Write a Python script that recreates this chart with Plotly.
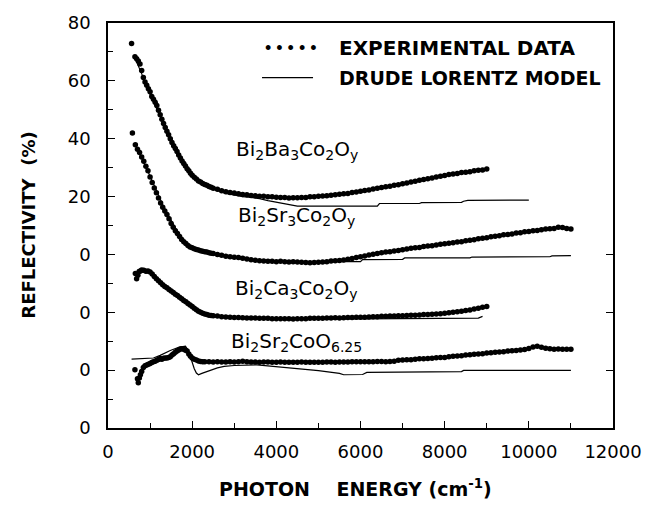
import plotly.graph_objects as go

# ---------------- data (reflectivity in %) ----------------
# vertical offsets used to stack the spectra on one axis
OFFSET_BA3 = 60
OFFSET_SR3 = 40
OFFSET_CA3 = 20
OFFSET_SR2 = 0

BA3_X = [560, 640, 680, 720, 760, 800, 840, 880, 920, 960, 1000, 1040, 1080, 1120, 1160, 1200, 1240, 1280,
         1320, 1360, 1400, 1440, 1480, 1520, 1560, 1600, 1640, 1680, 1720, 1760, 1800, 1840, 1880, 1920,
         1960, 2000, 2050, 2100, 2150, 2200, 2250, 2300, 2350, 2400, 2450, 2500, 2600, 2700, 2800, 2900,
         3000, 3100, 3200, 3300, 3400, 3500, 3600, 3700, 3800, 3900, 4000, 4100, 4200, 4300, 4400, 4500,
         4600, 4700, 4800, 4900, 5000, 5100, 5200, 5300, 5400, 5500, 5600, 5700, 5800, 5900, 6000, 6100,
         6200, 6300, 6400, 6500, 6600, 6700, 6800, 6900, 7000, 7100, 7200, 7300, 7400, 7500, 7600, 7700,
         7800, 7900, 8000, 8100, 8200, 8300, 8400, 8500, 8600, 8700, 8800, 8900, 9000]
BA3_R = [72.9, 68.3, 67.6, 66.9, 65.8, 63.6, 61.2, 59.6, 58.5, 57.3, 56.2, 54.6, 53.6, 52.6, 51.5, 49.8, 48.3,
         46.7, 45.3, 43.9, 42.6, 41.4, 40.0, 38.7, 37.6, 36.6, 35.6, 34.4, 33.3, 32.3, 31.4, 30.6, 29.6, 28.9,
         28.1, 27.4, 26.7, 26.1, 25.4, 25.0, 24.5, 24.2, 23.9, 23.5, 23.2, 22.9, 22.5, 22.0, 21.7, 21.4,
         21.2, 21.0, 20.7, 20.6, 20.4, 20.3, 20.1, 20.1, 19.9, 19.9, 19.8, 19.7, 19.7, 19.5, 19.6, 19.6,
         19.7, 19.7, 19.9, 19.9, 20.1, 20.2, 20.3, 20.5, 20.6, 20.8, 21.0, 21.1, 21.4, 21.6, 21.8, 22.1,
         22.3, 22.6, 22.9, 23.1, 23.4, 23.6, 23.9, 24.1, 24.4, 24.7, 25.0, 25.3, 25.6, 25.9, 26.2, 26.4,
         26.8, 27.0, 27.3, 27.6, 27.8, 28.0, 28.3, 28.4, 28.6, 28.9, 29.1, 29.2, 29.5]
BA3_MODEL_X = [620, 700, 800, 900, 1000, 1100, 1200, 1300, 1400, 1500, 1600, 1700, 1800, 1900, 2000, 2200,
               2400, 2600, 2800, 3000, 3200, 3400, 3600, 3800, 4000, 4200, 4400, 4500, 6400, 6450, 7400,
               7450, 8400, 8450, 8550, 10000]
BA3_MODEL_R = [68.5, 66.0, 62.5, 58.5, 55.2, 52.0, 49.0, 46.0, 42.9, 40.0, 37.2, 34.6, 32.2, 30.0, 28.0, 25.0,
               23.2, 22.0, 21.1, 20.5, 20.0, 19.7, 19.3, 18.6, 18.0, 17.4, 17.0, 16.7, 16.7, 17.6, 17.6,
               17.9, 18.0, 18.4, 18.7, 18.8]

SR3_X = [580, 650, 700, 750, 800, 850, 900, 950, 1000, 1050, 1100, 1150, 1200, 1250, 1300, 1350, 1400, 1450,
         1500, 1550, 1600, 1650, 1700, 1750, 1800, 1850, 1900, 1950, 2000, 2050, 2100, 2150, 2200, 2250,
         2300, 2350, 2400, 2450, 2500, 2600, 2700, 2800, 2900, 3000, 3100, 3200, 3300, 3400, 3500, 3600,
         3700, 3800, 3900, 4000, 4100, 4200, 4300, 4400, 4500, 4600, 4700, 4800, 4900, 5000, 5100, 5200,
         5300, 5400, 5500, 5600, 5700, 5800, 5900, 6000, 6100, 6200, 6300, 6400, 6500, 6600, 6700, 6800,
         6900, 7000, 7100, 7200, 7300, 7400, 7500, 7600, 7700, 7800, 7900, 8000, 8100, 8200, 8300, 8400,
         8500, 8600, 8700, 8800, 8900, 9000, 9100, 9200, 9300, 9400, 9500, 9600, 9700, 9800, 9900, 10000,
         10100, 10200, 10300, 10400, 10500, 10600, 10700, 10800, 10900, 11000]
SR3_R = [62.0, 57.9, 56.4, 55.2, 53.7, 52.2, 50.5, 48.9, 46.8, 44.9, 43.0, 41.3, 39.5, 37.8, 36.3, 35.0, 33.8,
         32.3, 30.7, 29.4, 28.2, 27.2, 26.2, 25.2, 24.4, 23.8, 23.1, 22.6, 22.3, 22.0, 21.7, 21.5, 21.3, 21.1,
         20.9, 20.8, 20.6, 20.4, 20.3, 20.0, 19.7, 19.4, 19.2, 19.0, 18.9, 18.7, 18.4, 18.2, 18.0, 17.8,
         17.7, 17.6, 17.6, 17.5, 17.6, 17.5, 17.4, 17.5, 17.4, 17.3, 17.2, 17.1, 17.2, 17.3, 17.4, 17.5,
         17.7, 17.8, 17.9, 18.1, 18.3, 18.6, 18.9, 19.2, 19.5, 19.8, 20.1, 20.3, 20.6, 20.8, 20.9, 21.2,
         21.4, 21.6, 21.9, 22.1, 22.3, 22.4, 22.7, 22.9, 23.0, 23.3, 23.5, 23.7, 23.9, 24.0, 24.3, 24.4,
         24.7, 24.9, 25.1, 25.4, 25.6, 25.8, 26.1, 26.3, 26.5, 26.8, 26.9, 27.1, 27.4, 27.5, 27.8, 27.9,
         28.2, 28.3, 28.5, 28.8, 28.9, 29.0, 29.4, 29.3, 29.0, 28.8]
SR3_MODEL_X = [630, 700, 800, 900, 1000, 1100, 1200, 1300, 1400, 1500, 1600, 1700, 1800, 1900, 2000, 2200,
               2400, 2600, 2800, 3000, 3300, 3600, 4000, 6000, 6050, 7000, 7050, 8600, 8650, 10500, 10550,
               11000]
SR3_MODEL_R = [58.5, 56.2, 53.3, 50.3, 47.0, 43.6, 40.3, 37.2, 34.4, 31.7, 29.2, 27.0, 25.0, 23.5, 22.4, 21.0,
               20.2, 19.6, 19.1, 18.7, 18.2, 17.8, 17.5, 17.5, 18.2, 18.3, 18.8, 18.8, 19.1, 19.2, 19.5,
               19.6]

CA3_X = [650, 680, 710, 740, 770, 800, 850, 900, 950, 1000, 1050, 1100, 1150, 1200, 1250, 1300, 1350, 1400,
         1450, 1500, 1550, 1600, 1650, 1700, 1750, 1800, 1850, 1900, 1950, 2000, 2050, 2100, 2150, 2200,
         2250, 2300, 2350, 2400, 2450, 2500, 2600, 2700, 2800, 2900, 3000, 3100, 3200, 3300, 3400, 3500,
         3600, 3700, 3800, 3900, 4000, 4100, 4200, 4300, 4400, 4500, 4600, 4700, 4800, 4900, 5000, 5100,
         5200, 5300, 5400, 5500, 5600, 5700, 5800, 5900, 6000, 6100, 6200, 6300, 6400, 6500, 6600, 6700,
         6800, 6900, 7000, 7100, 7200, 7300, 7400, 7500, 7600, 7700, 7800, 7900, 8000, 8100, 8200, 8300,
         8400, 8500, 8600, 8700, 8800, 8900, 9000]
CA3_R = [33.4, 31.6, 32.8, 34.1, 34.3, 34.6, 34.5, 34.2, 34.3, 33.9, 33.2, 32.4, 31.6, 30.9, 30.2, 29.5, 28.9,
         28.5, 27.9, 27.4, 26.8, 26.2, 25.8, 25.2, 24.7, 24.1, 23.6, 23.0, 22.5, 22.0, 21.4, 20.9, 20.4, 20.0,
         19.7, 19.4, 19.2, 19.0, 18.9, 18.8, 18.7, 18.5, 18.4, 18.3, 18.2, 18.2, 18.1, 18.0, 18.0, 18.0,
         17.9, 17.9, 17.9, 17.8, 17.8, 17.8, 17.8, 17.8, 17.7, 17.8, 17.8, 17.8, 17.9, 17.9, 17.9, 17.9,
         18.0, 18.0, 18.1, 18.0, 18.1, 18.2, 18.2, 18.3, 18.3, 18.3, 18.4, 18.5, 18.5, 18.6, 18.6, 18.7,
         18.7, 18.8, 18.8, 18.9, 19.0, 19.0, 19.1, 19.2, 19.2, 19.3, 19.4, 19.5, 19.7, 19.8, 20.0, 20.2,
         20.4, 20.6, 20.8, 21.1, 21.4, 21.7, 22.0]
CA3_MODEL_X = [680, 800, 1000, 1200, 1400, 1600, 1800, 2000, 2200, 2400, 2600, 3000, 3500, 4000, 6000, 8000,
               8800, 8900]
CA3_MODEL_R = [33.5, 34.0, 33.5, 30.8, 28.4, 26.1, 24.0, 22.0, 20.0, 18.9, 18.3, 17.9, 17.7, 17.6, 17.7, 17.9,
               18.0, 18.6]

SR2_X = [640, 700, 720, 745, 770, 800, 840, 880, 920, 960, 1000, 1040, 1080, 1120, 1160, 1200, 1240, 1280,
         1320, 1360, 1400, 1440, 1480, 1520, 1560, 1600, 1640, 1680, 1720, 1760, 1800, 1840, 1880, 1920,
         1960, 2000, 2050, 2100, 2150, 2200, 2250, 2300, 2400, 2500, 2600, 2700, 2800, 2900, 3000, 3100,
         3200, 3300, 3400, 3500, 3600, 3700, 3800, 3900, 4000, 4100, 4200, 4300, 4400, 4500, 4600, 4700,
         4800, 4900, 5000, 5100, 5200, 5300, 5400, 5500, 5600, 5700, 5800, 5900, 6000, 6100, 6200, 6300,
         6400, 6500, 6600, 6700, 6800, 6900, 7000, 7100, 7200, 7300, 7400, 7500, 7600, 7700, 7800, 7900,
         8000, 8100, 8200, 8300, 8400, 8500, 8600, 8700, 8800, 8900, 9000, 9100, 9200, 9300, 9400, 9500,
         9600, 9700, 9800, 9900, 10000, 10100, 10200, 10300, 10400, 10500, 10600, 10700, 10800, 10900, 11000]
SR2_R = [20.1, 17.0, 15.6, 17.3, 18.4, 19.5, 20.9, 21.5, 21.8, 22.0, 22.3, 22.6, 22.9, 23.1, 23.4, 23.7, 24.0,
         23.8, 24.1, 24.2, 24.2, 24.4, 24.6, 25.2, 25.7, 26.2, 26.6, 27.0, 27.3, 27.4, 27.2, 26.9, 26.6, 25.6,
         24.8, 24.2, 23.8, 23.5, 23.2, 23.0, 22.9, 22.9, 22.9, 22.8, 22.9, 22.8, 22.8, 22.9, 22.8, 22.9,
         23.1, 22.9, 22.8, 22.8, 22.7, 22.8, 22.8, 22.7, 22.7, 22.8, 22.7, 22.7, 22.7, 22.7, 22.8, 22.7,
         22.7, 22.7, 22.7, 22.7, 22.8, 22.8, 22.7, 22.8, 22.8, 22.8, 22.9, 22.9, 22.9, 22.9, 22.9, 22.9,
         23.0, 23.0, 22.9, 23.0, 23.1, 23.4, 23.5, 23.6, 23.6, 23.8, 23.9, 23.9, 24.0, 24.1, 24.3, 24.4,
         24.4, 24.6, 24.8, 24.9, 25.0, 25.2, 25.3, 25.5, 25.6, 25.7, 25.9, 26.0, 26.2, 26.3, 26.4, 26.6,
         26.7, 26.8, 27.0, 27.1, 27.5, 28.0, 28.3, 27.9, 27.6, 27.4, 27.2, 27.3, 27.2, 27.2, 27.2]
SR2_MODEL_X = [560, 1080, 1240, 1480, 1680, 1840, 1910, 1960, 1990, 2050, 2100, 2150, 2230, 2430, 2600, 2760,
               3000, 3540, 4010, 4300, 4640, 5000, 5500, 5600, 6050, 6100, 6150, 8400, 8450, 11000]
SR2_MODEL_R = [23.8, 24.2, 25.1, 26.8, 27.9, 28.3, 26.8, 24.5, 22.9, 20.5, 19.0, 18.4, 18.9, 20.0, 20.8, 21.3,
               21.6, 21.8, 21.2, 20.8, 20.4, 19.8, 18.9, 18.4, 18.5, 18.8, 19.2, 19.5, 19.9, 19.9]

SERIES = [
    ("Bi<sub>2</sub>Ba<sub>3</sub>Co<sub>2</sub>O<sub>y</sub>", OFFSET_BA3, BA3_X, BA3_R, BA3_MODEL_X, BA3_MODEL_R),
    ("Bi<sub>2</sub>Sr<sub>3</sub>Co<sub>2</sub>O<sub>y</sub>", OFFSET_SR3, SR3_X, SR3_R, SR3_MODEL_X, SR3_MODEL_R),
    ("Bi<sub>2</sub>Ca<sub>3</sub>Co<sub>2</sub>O<sub>y</sub>", OFFSET_CA3, CA3_X, CA3_R, CA3_MODEL_X, CA3_MODEL_R),
    ("Bi<sub>2</sub>Sr<sub>2</sub>CoO<sub>6.25</sub>", OFFSET_SR2, SR2_X, SR2_R, SR2_MODEL_X, SR2_MODEL_R),
]
# label anchor (cm^-1, reflectivity % of that compound) for each compound
LABEL_X = [3000, 3040, 2960, 2880]
LABEL_R = [36.2, 33.4, 27.9, 29.9]

X_TICKS = [0, 2000, 4000, 6000, 8000, 10000, 12000]
X_TICK_TEXT = ["0", "2000", "4000", "6000", "8000", "10000", "12000"]
Y_TICKS = [0, 20, 40, 60, 80, 100, 120, 140]
Y_TICK_TEXT = ["0", "0", "0", "0", "20", "40", "60", "80"]
BASELINE_TICKS = [20, 40, 60]

# ---------------- figure ----------------
fig = go.Figure()
for name, off, xd, rd, xm, rm in SERIES:
    fig.add_trace(go.Scatter(x=xm, y=[v + off for v in rm], mode="lines",
                             line=dict(color="black", width=1.2), showlegend=False, hoverinfo="skip"))
    fig.add_trace(go.Scatter(x=xd, y=[v + off for v in rd], mode="markers",
                             marker=dict(color="black", size=5.5, line=dict(width=0)),
                             showlegend=False, name=name))

# invisible trace to activate right-hand axis (baseline ticks)
fig.add_trace(go.Scatter(x=[None], y=[None], yaxis="y2", showlegend=False))

TICKFONT = dict(family="DejaVu Sans", size=18, color="black")
fig.update_layout(
    width=661, height=506,
    margin=dict(l=108, r=48, t=12, b=78),
    paper_bgcolor="white", plot_bgcolor="white",
    xaxis=dict(range=[0, 12000], tickvals=X_TICKS, ticktext=X_TICK_TEXT, ticks="inside", ticklen=7,
               tickwidth=1.3, tickcolor="black", showline=True, linecolor="black", linewidth=1.5,
               mirror=True, showgrid=False, zeroline=False, tickfont=TICKFONT, ticklabelstandoff=7,
               minor=dict(dtick=1000, ticks="inside", ticklen=5, tickwidth=1.2, tickcolor="black",
                          showgrid=False)),
    yaxis=dict(range=[0, 140], tickvals=Y_TICKS, ticktext=Y_TICK_TEXT, ticks="inside", ticklen=7,
               tickwidth=1.3, tickcolor="black", showline=True, linecolor="black", linewidth=1.5,
               mirror=True, showgrid=False, zeroline=False, tickfont=TICKFONT, ticklabelstandoff=12,
               minor=dict(dtick=10, ticks="inside", ticklen=5, tickwidth=1.2, tickcolor="black",
                          showgrid=False)),
    yaxis2=dict(range=[0, 140], overlaying="y", side="right", tickvals=BASELINE_TICKS, ticks="inside",
                ticklen=7, tickwidth=1.3, tickcolor="black", showticklabels=False, showline=False,
                showgrid=False, zeroline=False),
)

annotations = []
for (name, off, *_), lx, lr in zip(SERIES, LABEL_X, LABEL_R):
    annotations.append(dict(x=lx, y=lr + off, xref="x", yref="y", text=name, showarrow=False,
                            xanchor="left", yanchor="middle",
                            font=dict(family="DejaVu Sans", size=20, color="black")))

BOLD = dict(family="DejaVu Sans", size=19, color="black", weight="bold")
annotations += [
    dict(x=0.307, y=0.9375, xref="paper", yref="paper", text="• • • • •", showarrow=False,
         xanchor="left", yanchor="middle", font=dict(family="Liberation Sans", size=18, color="black")),
    dict(x=0.4535, y=0.9375, xref="paper", yref="paper", text="EXPERIMENTAL DATA", showarrow=False,
         xanchor="left", yanchor="middle", font=dict(family="DejaVu Sans", size=20, color="black",
                                                      weight="bold")),
    dict(x=0.4535, y=0.865, xref="paper", yref="paper", text="DRUDE LORENTZ MODEL", showarrow=False,
         xanchor="left", yanchor="middle", font=BOLD),
    dict(x=0.49, y=-0.148, xref="paper", yref="paper",
         text="PHOTON\u00a0\u00a0\u00a0\u00a0ENERGY (cm<sup>-1</sup>)", showarrow=False,
         xanchor="center", yanchor="middle", font=BOLD),
    dict(x=-0.158, y=0.5, xref="paper", yref="paper", text="REFLECTIVITY\u00a0\u00a0(%)",
         showarrow=False, xanchor="center", yanchor="middle", textangle=-90,
         font=dict(family="DejaVu Sans", size=18, color="black", weight="bold")),
]
fig.update_layout(annotations=annotations)
fig.add_shape(type="line", xref="paper", yref="paper", x0=0.305, x1=0.406, y0=0.865, y1=0.865,
              line=dict(color="black", width=1.2))

fig.write_html("out.html")
